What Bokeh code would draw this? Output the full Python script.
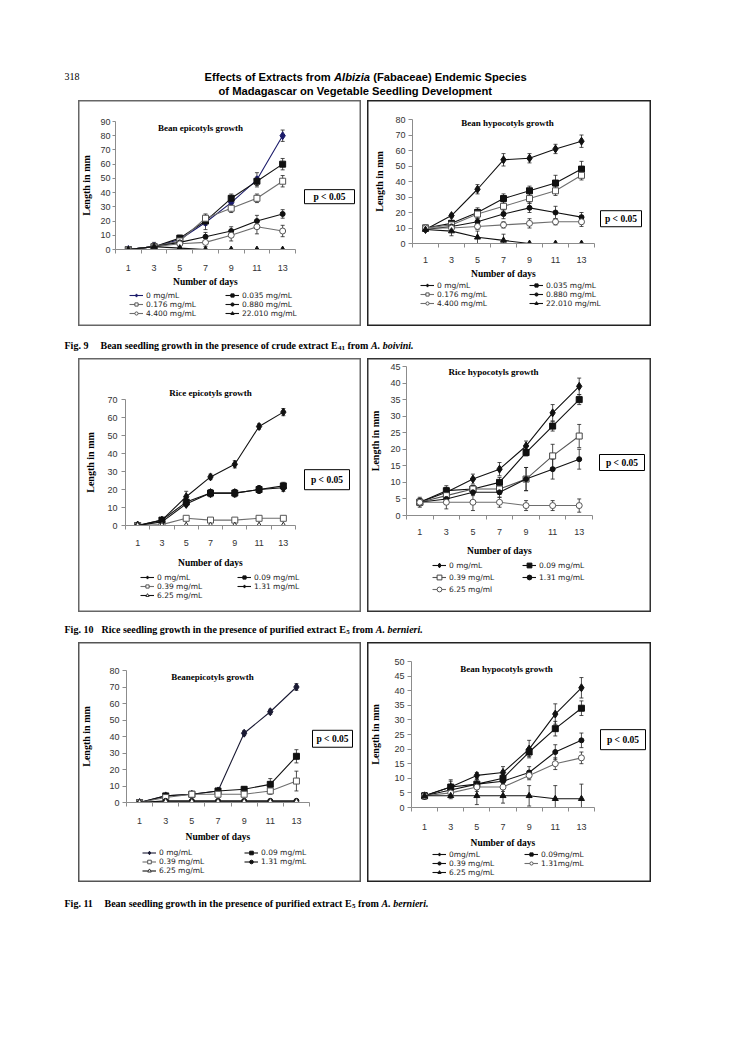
from bokeh.plotting import figure
from bokeh.models import (Range1d, FixedTicker, Label, Legend, LegendItem,
                          ColumnDataSource, Whisker, TeeHead, Spacer, BoxAnnotation)
from bokeh.layouts import column, row
from bokeh.embed import file_html
from bokeh.resources import INLINE

# ---------------- data ----------------
days = [1, 3, 5, 7, 9, 11, 13]
day_bounds = [0, 2, 4, 6, 8, 10, 12, 14]

page_number = "318"
header_line1 = ["Effects of Extracts from", "Albizia", "(Fabaceae) Endemic Species"]
header_line2 = "of Madagascar on Vegetable Seedling Development"

conc_a = ["0 mg/mL", "0.035 mg/mL", "0.176 mg/mL", "0.880 mg/mL", "4.400 mg/mL", "22.010 mg/mL"]

# Fig. 9 left : Bean epicotyls growth
f9a_title = "Bean epicotyls growth"
f9a_yticks = [0, 10, 20, 30, 40, 50, 60, 70, 80, 90]
f9a_means = [
    [0, 2, 7, 19, 33, 49, 80],
    [0, 2, 8, 20, 36, 48, 60],
    [0, 2, 6, 22, 29, 36, 48],
    [0, 2, 5, 9, 13, 20, 25],
    [0, 2, 4, 5, 10, 16, 13],
    [0, 2, 1, 0, 0, 0, 0],
]
f9a_err = [
    [0, 2, 2, 5, 3, 5, 4],
    [0, 2, 2, 3, 3, 3, 4],
    [0, 2, 2, 3, 3, 3, 4],
    [0, 2, 2, 3, 3, 4, 3],
    [0, 2, 2, 3, 4, 5, 4],
    [0, 3, 1, 0, 0, 0, 0],
]

# Fig. 9 right : Bean hypocotyls growth
f9b_title = "Bean hypocotyls growth"
f9b_yticks = [0, 10, 20, 30, 40, 50, 60, 70, 80]
f9b_means = [
    [9, 18, 35, 54, 55, 61, 66],
    [10, 13, 20, 29, 34, 39, 48],
    [10, 12, 19, 24, 29, 34, 44],
    [9, 11, 14, 19, 23, 20, 17],
    [10, 10, 11, 12, 13, 14, 14],
    [9, 8, 4, 2, 0, 0, 0],
]
f9b_err = [
    [1, 1, 3, 4, 3, 3, 4],
    [1, 2, 3, 3, 3, 5, 5],
    [1, 2, 3, 3, 3, 3, 3],
    [1, 2, 2, 3, 3, 4, 3],
    [1, 2, 2, 2, 3, 2, 3],
    [1, 3, 4, 4, 0, 0, 0],
]

# Fig. 10 left : Rice epicotyls growth
conc_b = ["0 mg/mL", "0.09 mg/mL", "0.39 mg/mL", "1.31 mg/mL", "6.25 mg/mL"]
f10a_title = "Rice epicotyls growth"
f10a_yticks = [0, 10, 20, 30, 40, 50, 60, 70]
f10a_means = [
    [0, 3, 16, 27, 34, 55, 63],
    [0, 3, 13, 18, 18, 20, 22],
    [0, 0.5, 4, 3, 3, 4, 4],
    [0, 2, 12, 18, 18, 20, 21],
    [0, 0, 0, 0, 0, 0, 0],
]
f10a_err = [
    [0, 1, 3, 1.5, 2, 1.5, 2],
    [0, 1, 1.5, 2, 2, 2, 2],
    [0, 0, 0.5, 0.5, 0.5, 0.5, 0.5],
    [0, 1, 1.5, 2, 2, 2, 2],
    [0, 0, 0, 0, 0, 0, 0],
]

# Fig. 10 right : Rice hypocotyls growth
conc_c = ["0 mg/mL", "0.09 mg/mL", "0.39 mg/mL", "1.31 mg/mL", "6.25 mg/ml"]
f10b_title = "Rice hypocotyls growth"
f10b_yticks = [0, 5, 10, 15, 20, 25, 30, 35, 40, 45]
f10b_means = [
    [4, 7, 11, 14, 21, 31, 39],
    [4, 7.5, 8, 10, 19, 27, 35],
    [4, 6, 8, 8, 11, 18, 24],
    [4, 5, 7, 7, 11, 14, 17],
    [4, 4, 4, 4, 3, 3, 3],
]
f10b_err = [
    [1.5, 2, 1.5, 2, 1.5, 2.5, 2.5],
    [1, 1, 1, 1.5, 1, 1.5, 1.5],
    [1, 1, 1, 1.5, 3.5, 3.5, 3.5],
    [1, 1.5, 1, 1.5, 3.5, 3, 3],
    [1, 2, 2.5, 1.5, 1.5, 1.5, 2],
]

# Fig. 11 left : Bean epicotyls growth
f11a_title = "Beanepicotyls growth"
f11a_yticks = [0, 10, 20, 30, 40, 50, 60, 70, 80]
f11a_means = [
    [0, 4, 5, 7, 42, 55, 70],
    [0, 4, 5, 7, 8, 11, 28],
    [0, 3, 5, 5, 5, 7, 13],
    [0, 1, 1, 1, 1, 1, 1],
    [0, 0.5, 0.5, 0.5, 0.5, 0.5, 0.5],
]
f11a_err = [
    [0, 1.5, 1.5, 1.5, 1.5, 1.5, 2],
    [0, 1, 1, 1, 1.5, 3.5, 4],
    [0, 1, 1, 1, 1, 2, 6],
    [0, 0.5, 0.5, 0.5, 0.5, 0.5, 0.5],
    [0, 0, 0, 0, 0, 0, 0],
]

# Fig. 11 right : Bean hypocotyls growth
conc_d = ["0mg/mL", "0.09mg/mL", "0.39 mg/mL", "1.31mg/mL", "6.25 mg/mL"]
f11b_title = "Bean hypocotyls growth"
f11b_yticks = [0, 5, 10, 15, 20, 25, 30, 35, 40, 45, 50]
f11b_means = [
    [4, 7, 11, 12, 20, 32, 41],
    [4, 7, 8, 10, 19, 27, 34],
    [4, 6, 8, 9, 12, 19, 23],
    [4, 5, 7, 7, 11, 15, 17],
    [4, 4, 4, 4, 4, 3, 3],
]
f11b_err = [
    [1, 2.5, 1, 2, 3, 3.5, 3.5],
    [1, 2, 1.5, 1.5, 1.5, 2.5, 2.5],
    [1, 1, 1.5, 1.5, 2, 2.5, 2.5],
    [1, 1, 1.5, 1.5, 1.5, 2, 2],
    [1, 1, 3, 2.5, 3.5, 4.5, 5],
]

p_text = "p < 0.05"
cap9 = ["Fig. 9", "Bean seedling growth in the presence of crude extract E", "41", "from", "A. boivini."]
cap10 = ["Fig. 10", "Rice seedling growth in the presence of purified extract E", "5", "from", "A. bernieri."]
cap11 = ["Fig. 11", "Bean seedling growth in the presence of purified extract E", "5", "from", "A. bernieri."]

# ---------------- styling ----------------
SERIF = "Liberation Serif"
SANS = "Liberation Sans"
LEGF = "DejaVu Sans"
LEG_SIZE = 7.5
LEG_ROW = 8.7
BLK = "#111111"
GRY = "#6e6e6e"
NAVY = "#1c1c6b"

# Times-Bold / Helvetica-Bold advance widths (per 1000 em) for positioning text runs
TB = {' ': 250, '.': 250, '0': 500, '1': 500, '4': 500, '5': 500, '9': 500,
      'B': 667, 'E': 667, 'F': 611, 'R': 722, 'a': 500, 'b': 556, 'c': 444, 'd': 556,
      'e': 444, 'f': 333, 'g': 500, 'h': 556, 'i': 278, 'l': 278, 'm': 833, 'n': 556,
      'o': 500, 'p': 556, 'r': 444, 's': 389, 't': 333, 'u': 556, 'w': 722, 'x': 500, 'y': 500}
HB = {' ': 278, 'E': 667, 'f': 333, 'e': 556, 'c': 556, 't': 333, 's': 556, 'o': 611,
      'x': 556, 'r': 389, 'a': 556, 'm': 889, 'A': 722, 'l': 278, 'b': 611, 'i': 278, 'z': 500}


def tw(s, table, size):
    return sum(table.get(c, 500) for c in s) * size / 1000.0


def blank(x0, x1, y0, y1):
    """A figure without axes whose data coordinates are page pixels (y downwards)."""
    f = figure(width=int(round(x1 - x0)), height=int(round(y1 - y0)),
               x_range=Range1d(x0, x1), y_range=Range1d(y1, y0),
               x_axis_type=None, y_axis_type=None, output_backend="svg",
               toolbar_location=None, min_border=0, frame_align=False)
    f.outline_line_color = None
    f.background_fill_color = None
    f.border_fill_color = None
    return f


def txt(f, x, y, s, font, size, style="normal"):
    f.add_layout(Label(x=x, y=y, text=s, text_font=font, text_font_size=f"{size}px",
                       text_font_style=style, text_align="left", text_baseline="alphabetic",
                       text_color="black"))


def caption(f, y, parts, bx):
    fig_no, body, sub, frm, species = parts
    txt(f, 72, y, fig_no, SERIF, 10, "bold")
    txt(f, bx, y, body, SERIF, 10, "bold")
    sx = bx + tw(body, TB, 10)
    txt(f, sx, y + 2, sub, SERIF, 7, "bold")
    fx = sx + tw(sub, TB, 7) + 2.5
    txt(f, fx, y, frm, SERIF, 10, "bold")
    ix = fx + tw(frm, TB, 10) + 2.5
    txt(f, ix, y, species, SERIF, 10, "bold italic")


def make_panel(title, labels, yticks, means, errs, styles, g):
    X0, X1, Y0, Y1 = g["box"]
    FX0, FX1, FY0, FY1 = g["frame"]
    pitch, colp, row1, col1 = g["legend"]
    rowh = max(pitch, LEG_ROW)
    ycut = row1 - rowh / 2.0 - 1
    xcut = FX1 + 2

    # ---- chart figure ----
    p = figure(width=int(xcut - X0), height=int(round(ycut - Y0)),
               x_range=Range1d(0, 14), y_range=Range1d(yticks[0], yticks[-1]),
               output_backend="svg", toolbar_location=None, frame_align=False,
               min_border_left=int(FX0 - X0), min_border_right=2,
               min_border_top=int(FY0 - Y0), min_border_bottom=int(round(ycut - FY1)))
    p.xgrid.visible = False
    p.ygrid.visible = False
    p.outline_line_color = None
    p.background_fill_color = None
    p.border_fill_color = None

    xa = p.xaxis[0]
    xa.ticker = FixedTicker(ticks=days, minor_ticks=day_bounds)
    xa.major_tick_in = 0
    xa.major_tick_out = 0
    xa.major_tick_line_color = None
    xa.minor_tick_in = 0
    xa.minor_tick_out = 4
    xa.axis_line_color = "#8c8c8c"
    xa.minor_tick_line_color = "#8c8c8c"
    xa.major_label_text_font = SANS
    xa.major_label_text_font_size = "9px"
    xa.major_label_text_color = "#333333"
    xa.major_label_standoff = g["xls"]
    xa.axis_label = "Number of days"
    xa.axis_label_text_font = SERIF
    xa.axis_label_text_font_style = "bold"
    xa.axis_label_text_font_size = "9.5px"
    xa.axis_label_text_color = "black"
    xa.axis_label_standoff = g["xas"]

    ya = p.yaxis[0]
    ya.ticker = FixedTicker(ticks=yticks)
    ya.minor_tick_line_color = None
    ya.major_tick_in = 0
    ya.major_tick_out = g["yto"]
    ya.axis_line_color = "#8c8c8c"
    ya.major_tick_line_color = "#8c8c8c"
    ya.major_label_text_font = SANS
    ya.major_label_text_font_size = "9px"
    ya.major_label_text_color = "#333333"
    ya.major_label_standoff = g["yls"]
    ya.axis_label = "Length in mm"
    ya.axis_label_text_font = SERIF
    ya.axis_label_text_font_style = "bold"
    ya.axis_label_text_font_size = "10px"
    ya.axis_label_text_color = "black"
    ya.axis_label_standoff = g["yas"]

    for m, e, st in zip(means, errs, styles):
        marker, size, fill, edge, lc = st
        src = ColumnDataSource(dict(x=days, y=m,
                                    lo=[a - b for a, b in zip(m, e)],
                                    hi=[a + b for a, b in zip(m, e)]))
        p.line("x", "y", source=src, line_color=lc, line_width=1.1)
        p.add_layout(Whisker(base="x", upper="hi", lower="lo", source=src,
                             line_color="#222222", line_width=0.8,
                             upper_head=TeeHead(size=4, line_color="#222222", line_width=0.8),
                             lower_head=TeeHead(size=4, line_color="#222222", line_width=0.8)))
        p.scatter("x", "y", source=src, marker=marker, size=size,
                  fill_color=fill, line_color=edge, line_width=1)

    tcx, tcy = g["title"]
    if tcy < FY0:
        p.title.text = title
        p.title.align = "center"
        p.title.text_font = SERIF
        p.title.text_font_style = "bold"
        p.title.text_font_size = "9px"
        p.title.text_color = "black"
        p.title.standoff = int(2 * (FY0 - tcy - 5))
        p.title.offset = 0
    else:
        p.add_layout(Label(x=tcx - FX0, y=FY1 - tcy, x_units="screen", y_units="screen",
                           text=title, text_font=SERIF, text_font_style="bold",
                           text_font_size="9px", text_align="center", text_baseline="middle",
                           text_color="black"))

    # ---- significance box figure (right of the chart) ----
    pb = blank(xcut, X1, Y0, ycut)
    bx0, bx1, by0, by1 = g["pbox"]
    bx0 = max(bx0, xcut + 1)
    pb.add_layout(BoxAnnotation(left=bx0, right=bx1, top=by0, bottom=by1,
                                fill_color="white", fill_alpha=1,
                                line_color="black", line_width=1, line_alpha=1))
    pb.add_layout(Label(x=(bx0 + bx1) / 2.0, y=(by0 + by1) / 2.0, text=p_text,
                        text_font=SERIF, text_font_style="bold", text_font_size="9.5px",
                        text_align="center", text_baseline="middle", text_color="black"))

    # ---- legend figure (below the chart) ----
    lf = blank(X0, X1, ycut, Y1)
    off_x, off_y = [X0 - 50], [Y1 + 50]   # keys only: one point outside the visible range
    items = []
    for lab, st in zip(labels, styles):
        marker, size, fill, edge, lc = st
        rl = lf.line(x=off_x, y=off_y, line_color=lc, line_width=1.1)
        rs = lf.scatter(x=off_x, y=off_y, marker=marker, size=size, fill_color=fill,
                        line_color=edge, line_width=1)
        items.append(LegendItem(label=lab, renderers=[rl, rs]))
    nrows = (len(labels) + 1) // 2
    leg_bottom = row1 - rowh / 2.0 + nrows * rowh
    leg = Legend(items=items, location=(col1 - X0, Y1 - leg_bottom),
                 orientation="horizontal", ncols=2,
                 glyph_width=14, glyph_height=pitch, label_height=pitch,
                 label_width=colp - 17, label_standoff=3, spacing=0, padding=0, margin=0,
                 border_line_color=None, background_fill_alpha=0,
                 label_text_font=LEGF, label_text_font_size=f"{LEG_SIZE}px",
                 label_text_color="#222222")
    lf.add_layout(leg)

    return column(row(p, pb, spacing=0), lf, spacing=0,
                  styles={"box-shadow": f"inset 0 0 0 1.5px {g['edge']}"})


def st6(zero_color):
    return [("diamond", 8, zero_color, zero_color, zero_color),
            ("square", 6, BLK, BLK, BLK),
            ("square", 6, "white", "#555555", GRY),
            ("circle", 5, BLK, BLK, BLK),
            ("circle", 6, "white", "#555555", GRY),
            ("triangle", 6, BLK, BLK, BLK)]


st_10a = [("diamond", 8, BLK, BLK, BLK), ("square", 6, BLK, BLK, BLK),
          ("square", 6, "white", "#555555", GRY), ("diamond", 9, BLK, BLK, BLK),
          ("triangle", 6, "white", "#333333", BLK)]
st_10b = [("diamond", 8, BLK, BLK, BLK), ("square", 6, BLK, BLK, BLK),
          ("square", 6, "white", "#444444", "#555555"), ("circle", 5, BLK, BLK, BLK),
          ("circle", 6, "white", "#555555", GRY)]
st_11a = [("diamond", 8, "#1a1a33", "#1a1a33", "#1a1a33"), ("square", 6, BLK, BLK, BLK),
          ("square", 6, "white", "#555555", GRY), ("circle", 5, BLK, BLK, BLK),
          ("triangle", 6, "white", "#333333", BLK)]
st_11b = [("diamond", 8, BLK, BLK, BLK), ("square", 6, BLK, BLK, BLK),
          ("circle", 5, BLK, BLK, BLK), ("circle", 6, "white", "#555555", GRY),
          ("triangle", 6, BLK, BLK, BLK)]

# page-pixel geometry of each panel
G = {
    "p1": dict(box=(86, 369, 108, 334), frame=(123, 303, 129, 257), edge="#666666",
               xls=11, xas=3, yto=3, yls=2, yas=5, title=(208, 135),
               pbox=(312, 362, 197, 211), legend=(8, 96, 304, 137)),
    "p2": dict(box=(375, 659, 108, 334), frame=(420, 602, 127, 254), edge="#222222",
               xls=9, xas=3, yto=4, yls=3, yas=7, title=(515, 133),
               pbox=(608, 649, 218, 234), legend=(8, 109, 294, 428)),
    "p3": dict(box=(86, 369, 366, 620), frame=(133, 303, 407, 533), edge="#666666",
               xls=10, xas=9, yto=4, yls=4, yas=8, title=(217, 400),
               pbox=(312, 357, 477, 497), legend=(8, 97, 586, 148)),
    "p4": dict(box=(375, 659, 366, 620), frame=(413, 600, 374, 524), edge="#333333",
               xls=9, xas=8, yto=4, yls=2, yas=6, title=(500, 380),
               pbox=(607, 652, 462, 478), legend=(12, 90, 573, 440)),
    "p5": dict(box=(86, 369, 650, 890), frame=(132, 317, 678, 811), edge="#555555",
               xls=11, xas=5, yto=4, yls=3, yas=14, title=(218, 685),
               pbox=(314, 360, 738, 755), legend=(9, 102, 860, 150)),
    "p6": dict(box=(375, 659, 650, 890), frame=(417, 602, 669, 816), edge="#222222",
               xls=12, xas=5, yto=4, yls=3, yas=10, title=(512, 677),
               pbox=(608, 653, 737, 757), legend=(8, 92, 863, 440)),
}

p1 = make_panel(f9a_title, conc_a, f9a_yticks, f9a_means, f9a_err, st6(NAVY), G["p1"])
p2 = make_panel(f9b_title, conc_a, f9b_yticks, f9b_means, f9b_err, st6(BLK), G["p2"])
p3 = make_panel(f10a_title, conc_b, f10a_yticks, f10a_means, f10a_err, st_10a, G["p3"])
p4 = make_panel(f10b_title, conc_c, f10b_yticks, f10b_means, f10b_err, st_10b, G["p4"])
p5 = make_panel(f11a_title, conc_b, f11a_yticks, f11a_means, f11a_err, st_11a, G["p5"])
p6 = make_panel(f11b_title, conc_d, f11b_yticks, f11b_means, f11b_err, st_11b, G["p6"])

# header
hdr = blank(8, 737, 8, 108)
txt(hdr, 72, 84, page_number, SERIF, 10)
x0 = 212
txt(hdr, x0, 84.5, header_line1[0], SANS, 11.2, "bold")
x1 = x0 + tw(header_line1[0] + " ", HB, 11.2)
txt(hdr, x1, 84.5, header_line1[1], SANS, 11.2, "bold italic")
x2 = x1 + tw(header_line1[1] + " ", HB, 11.2)
txt(hdr, x2, 84.5, header_line1[2], SANS, 11.2, "bold")
txt(hdr, 226, 98, header_line2, SANS, 11.2, "bold")

c1 = blank(8, 737, 334, 366)
caption(c1, 353, cap9, 108)
c2 = blank(8, 737, 620, 650)
caption(c2, 637, cap10, 109)
c3 = blank(8, 737, 890, 925)
caption(c3, 911, cap11, 112)


def prow(a, b, h):
    return row(Spacer(width=78, height=h), a, Spacer(width=6, height=h), b, spacing=0)


page = column(hdr, prow(p1, p2, 226), c1, prow(p3, p4, 254), c2, prow(p5, p6, 240), c3, spacing=0)

open("out.html", "w").write(file_html(page, INLINE))
